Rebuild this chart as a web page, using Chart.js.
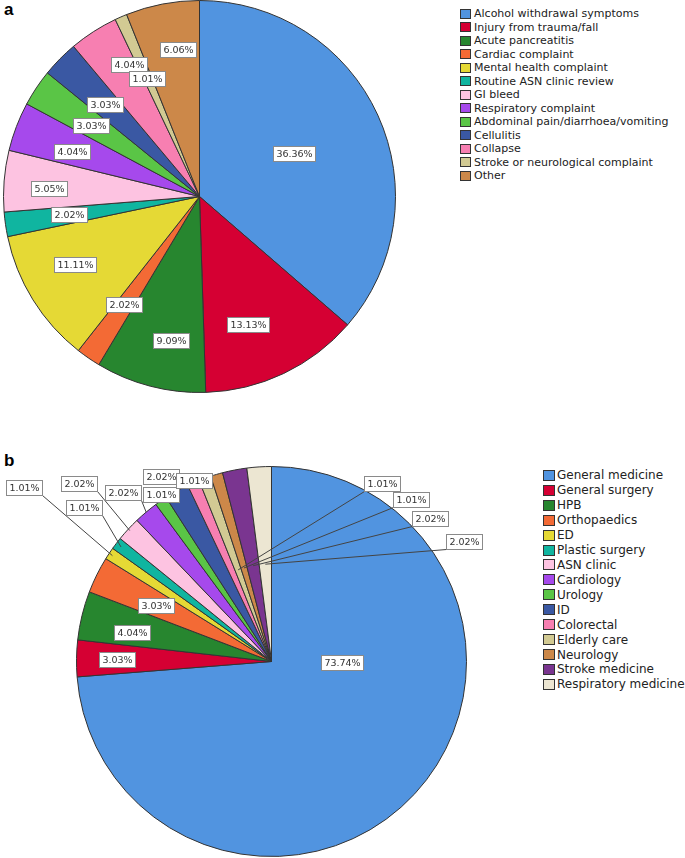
<!DOCTYPE html>
<html>
<head>
<meta charset="utf-8">
<script src="https://cdn.jsdelivr.net/npm/chart.js@4"></script>
<style>
  body { margin: 0; background: #fff; width: 685px; height: 858px; overflow: hidden; position: relative; font-family: "DejaVu Sans", sans-serif; }
  canvas { position: absolute; }
  .panel { position: absolute; font: bold 17px "Liberation Sans", Arial, sans-serif; color: #000; }
  .legend { position: absolute; color: #222; }
  .legend div { display: flex; align-items: center; white-space: nowrap; }
  .legend span.box { display: inline-block; box-sizing: border-box; border: 1px solid #333; }
</style>
</head>
<body>
<div class="panel" style="left:4px; top:0px;">a</div>
<div class="panel" style="left:4px; top:451px;">b</div>
<canvas id="chartA" width="420" height="400" style="left:0; top:0;"></canvas>
<canvas id="chartB" width="540" height="418" style="left:0; top:440px;"></canvas>
<div id="legendA" class="legend" style="left:460px; top:7px; font-size:11px;"></div>
<div id="legendB" class="legend" style="left:543px; top:468px; font-size:12px;"></div>
<script>
// panel a: reason for presentation (% of 99)
const complaintLabels = [
    'Alcohol withdrawal symptoms', 'Injury from trauma/fall', 'Acute pancreatitis',
    'Cardiac complaint', 'Mental health complaint', 'Routine ASN clinic review',
    'GI bleed', 'Respiratory complaint', 'Abdominal pain/diarrhoea/vomiting',
    'Cellulitis', 'Collapse', 'Stroke or neurological complaint', 'Other'
];
const complaintPct = [36.36, 13.13, 9.09, 2.02, 11.11, 2.02, 5.05, 4.04, 3.03, 3.03, 4.04, 1.01, 6.06];

// panel b: admitting specialty (% of 99)
const serviceLabels = [
    'General medicine', 'General surgery', 'HPB', 'Orthopaedics', 'ED',
    'Plastic surgery', 'ASN clinic', 'Cardiology', 'Urology', 'ID',
    'Colorectal', 'Elderly care', 'Neurology', 'Stroke medicine', 'Respiratory medicine'
];
const servicePct = [73.74, 3.03, 4.04, 3.03, 1.01, 1.01, 2.02, 2.02, 1.01, 2.02, 1.01, 1.01, 1.01, 2.02, 2.02];

const complaintColors = [
    '#5194e0', '#d50033', '#27862f', '#f36a35', '#e5d935', '#10b5a0', '#fdc3e1',
    '#a649ec', '#5ac546', '#3a58a3', '#f77fb1', '#d2ca93', '#cc8849'
];
const serviceColors = [
    '#5194e0', '#d50033', '#27862f', '#f36a35', '#e5d935', '#10b5a0', '#fdc3e1',
    '#a649ec', '#5ac546', '#3a58a3', '#f77fb1', '#d2ca93', '#cc8849', '#7a3590', '#ece6d2'
];

// label box centres, as offsets from pie centre in radius units
const complaintLabelPos = [
    [0.48, -0.22], [0.245, 0.655], [-0.143, 0.737], [-0.383, 0.551], [-0.633, 0.347],
    [-0.668, 0.092], [-0.770, -0.041], [-0.648, -0.230], [-0.556, -0.362], [-0.480, -0.469],
    [-0.362, -0.676], [-0.270, -0.602], [-0.112, -0.750]
];
const serviceLabelPos = [
    [0.364, 0.005], [-0.790, -0.010], [-0.713, -0.149], [-0.590, -0.287], [-1.267, -0.892],
    [-0.959, -0.790], [-0.985, -0.913], [-0.764, -0.867], [-0.569, -0.856], [-0.569, -0.949],
    [-0.400, -0.928], [0.569, -0.913], [0.713, -0.831], [0.815, -0.733], [0.985, -0.615]
];
// where a leader line meets the slice (fraction of radius), null = no leader
const serviceLeader = [null, null, null, null, 0.98, 0.97, 0.99, 1.0, 1.0, 1.0, 1.0, 0.5, 0.5, 0.5, 0.5];

/*
 * boxed percentage labels with optional leader lines
 */
const boxLabels = {
    id: 'boxLabels',
    afterDatasetsDraw(chart, args, opts) {
        const {ctx} = chart;
        const meta = chart.getDatasetMeta(0);
        const values = chart.data.datasets[0].data;
        const boxes = [];

        meta.data.forEach((arc, i) => {
            const {x, y, startAngle, endAngle, outerRadius} =
                arc.getProps(['x', 'y', 'startAngle', 'endAngle', 'outerRadius'], true);
            const [dx, dy] = opts.pos[i];
            const text = values[i].toFixed(2) + '%';
            ctx.font = '9.5px "DejaVu Sans"';
            const w = Math.round(ctx.measureText(text).width) + 6;
            const h = 15;
            const bx = Math.round(x + dx * outerRadius - w / 2) + 0.5;
            const by = Math.round(y + dy * outerRadius - h / 2) + 0.5;
            const lead = opts.leader ? opts.leader[i] : null;
            if (lead) {
                const mid = (startAngle + endAngle) / 2;
                ctx.save();
                ctx.strokeStyle = '#444';
                ctx.lineWidth = 1;
                ctx.beginPath();
                ctx.moveTo(x + Math.cos(mid) * outerRadius * lead, y + Math.sin(mid) * outerRadius * lead);
                ctx.lineTo(dx < 0 ? bx + w : bx, by + h);
                ctx.stroke();
                ctx.restore();
            }
            boxes.push({bx, by, w, h, text});
        });

        ctx.save();
        boxes.forEach(b => {
            ctx.fillStyle = '#fff';
            ctx.fillRect(b.bx, b.by, b.w, b.h);
            ctx.strokeStyle = '#8a8a8a';
            ctx.lineWidth = 1;
            ctx.strokeRect(b.bx, b.by, b.w, b.h);
            ctx.fillStyle = '#333';
            ctx.font = '9.5px "DejaVu Sans"';
            ctx.textAlign = 'center';
            ctx.textBaseline = 'middle';
            ctx.fillText(b.text, b.bx + b.w / 2, b.by + b.h / 2 + 0.5);
        });
        ctx.restore();
    }
};

function makePie(id, labels, values, colors, padding, labelOpts) {
    return new Chart(document.getElementById(id), {
        type: 'pie',
        plugins: [boxLabels],
        data: {
            labels: labels,
            datasets: [{
                data: values,
                backgroundColor: colors,
                borderColor: '#333',
                borderWidth: 1,
                hoverOffset: 0,
                offset: 0
            }]
        },
        options: {
            responsive: false,
            animation: false,
            events: [],
            layout: { padding: padding },
            plugins: {
                legend: { display: false },
                tooltip: { enabled: false },
                boxLabels: labelOpts
            }
        }
    });
}

function htmlLegend(el, labels, colors, rowH, boxW, boxH, gap) {
    labels.forEach((lab, i) => {
        const row = document.createElement('div');
        row.style.height = rowH + 'px';
        const box = document.createElement('span');
        box.className = 'box';
        box.style.width = boxW + 'px';
        box.style.height = boxH + 'px';
        box.style.background = colors[i];
        box.style.marginRight = gap + 'px';
        row.appendChild(box);
        row.appendChild(document.createTextNode(lab));
        el.appendChild(row);
    });
}

makePie('chartA', complaintLabels, complaintPct, complaintColors,
    {left: 3, right: 24, top: 0, bottom: 7}, {pos: complaintLabelPos});
makePie('chartB', serviceLabels, servicePct, serviceColors,
    {left: 76, right: 73, top: 26, bottom: 1}, {pos: serviceLabelPos, leader: serviceLeader});

htmlLegend(document.getElementById('legendA'), complaintLabels, complaintColors, 13.5, 11, 10, 3);
htmlLegend(document.getElementById('legendB'), serviceLabels, serviceColors, 14.93, 12, 11, 2);
</script>
</body>
</html>
